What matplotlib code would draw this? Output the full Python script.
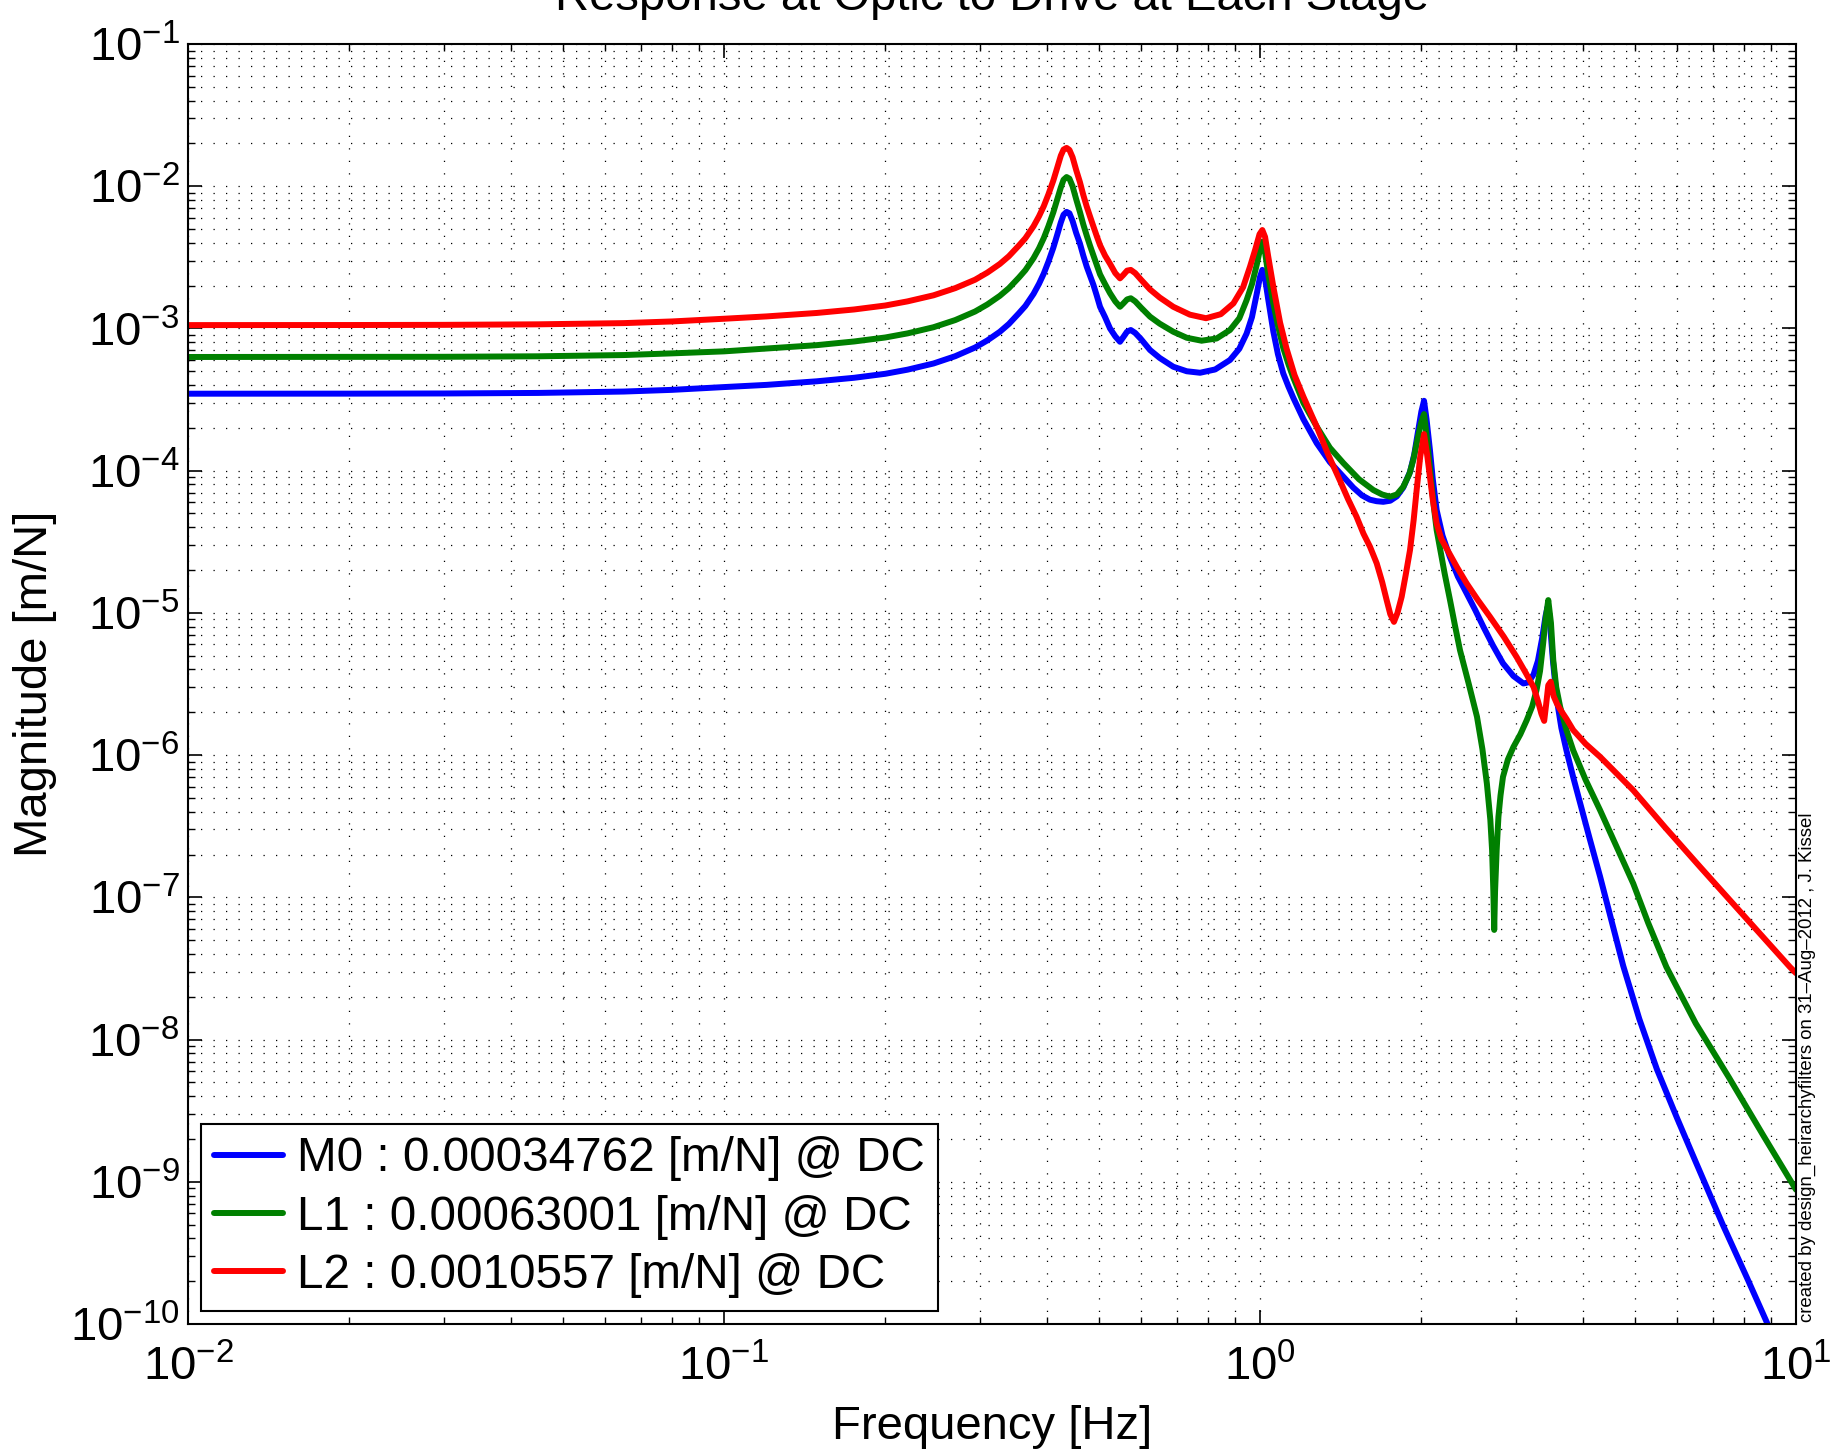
import numpy as np
import matplotlib
matplotlib.use('Agg')
import matplotlib.pyplot as plt
from matplotlib.ticker import LogLocator, NullFormatter

plt.rcParams['font.family'] = ['Liberation Sans', 'DejaVu Sans']
plt.rcParams['mathtext.fontset'] = 'custom'
plt.rcParams['mathtext.rm'] = 'Liberation Sans'
plt.rcParams['mathtext.it'] = 'Liberation Sans:italic'
plt.rcParams['mathtext.bf'] = 'Liberation Sans:bold'
plt.rcParams['mathtext.sf'] = 'Liberation Sans'

# ---------------- data: (frequency [Hz], magnitude [m/N]) ----------------
m0_points = [
    (0.01, 3.476e-4), (0.02, 3.48e-4), (0.03, 3.49e-4), (0.045, 3.52e-4), (0.065, 3.6e-4),
    (0.08, 3.7e-4), (0.1, 3.87e-4), (0.12, 4.01e-4), (0.149, 4.25e-4), (0.175, 4.5e-4),
    (0.2, 4.8e-4), (0.22, 5.13e-4), (0.246, 5.67e-4), (0.27, 6.38e-4), (0.294, 7.34e-4),
    (0.31, 8.24e-4), (0.327, 9.47e-4), (0.34, 1.075e-3), (0.355, 1.28e-3), (0.365, 1.44e-3),
    (0.378, 1.75e-3), (0.387, 2.06e-3), (0.395, 2.43e-3), (0.403, 2.95e-3), (0.4115, 3.69e-3),
    (0.418, 4.49e-3), (0.425, 5.56e-3), (0.43, 6.3e-3), (0.4357, 6.6e-3), (0.441, 6.45e-3),
    (0.447, 5.7e-3), (0.454, 4.69e-3), (0.4613, 3.96e-3), (0.468, 3.26e-3), (0.475, 2.72e-3),
    (0.482, 2.34e-3), (0.489, 2.02e-3), (0.496, 1.7e-3), (0.503, 1.42e-3), (0.514, 1.2e-3),
    (0.525, 1.0e-3), (0.537, 8.8e-4), (0.548, 8.06e-4), (0.556, 8.7e-4), (0.565, 9.5e-4),
    (0.574, 9.75e-4), (0.585, 9.3e-4), (0.6, 8.4e-4), (0.6235, 7.05e-4), (0.65, 6.2e-4),
    (0.689, 5.38e-4), (0.73, 5.0e-4), (0.773, 4.88e-4), (0.825, 5.15e-4), (0.879, 6.0e-4),
    (0.915, 7.2e-4), (0.944, 9.2e-4), (0.966, 1.2e-3), (0.986, 1.75e-3), (1.0, 2.3e-3),
    (1.01, 2.58e-3), (1.02, 2.35e-3), (1.036, 1.6e-3), (1.059, 9.5e-4), (1.08, 6.6e-4),
    (1.105, 4.83e-4), (1.13, 3.9e-4), (1.154, 3.25e-4), (1.205, 2.3e-4), (1.276, 1.56e-4),
    (1.35, 1.15e-4), (1.431, 9.06e-5), (1.493, 7.6e-5), (1.55, 6.7e-5), (1.604, 6.25e-5),
    (1.65, 6.1e-5), (1.698, 6.04e-5), (1.75, 6.15e-5), (1.8, 6.6e-5), (1.85, 7.6e-5),
    (1.905, 9.8e-5), (1.94, 1.3e-4), (1.97, 1.85e-4), (2.0, 2.6e-4), (2.023, 3.1e-4),
    (2.045, 2.3e-4), (2.075, 1.4e-4), (2.1, 8.8e-5), (2.136, 5.28e-5), (2.19, 3.5e-5),
    (2.26, 2.48e-5), (2.34, 1.8e-5), (2.43, 1.37e-5), (2.52, 1.05e-5), (2.61, 8.0e-6),
    (2.72, 5.9e-6), (2.84, 4.42e-6), (2.97, 3.6e-6), (3.1, 3.19e-6), (3.17, 3.25e-6),
    (3.24, 3.7e-6), (3.3, 4.6e-6), (3.36, 6.6e-6), (3.41, 9.5e-6), (3.44, 1.1e-5),
    (3.47, 9.0e-6), (3.52, 4.6e-6), (3.58, 2.44e-6), (3.65, 1.55e-6), (3.73, 1.08e-6),
    (3.84, 7.0e-7), (3.95, 4.7e-7), (4.12, 2.6e-7), (4.31, 1.4e-7), (4.52, 7.0e-8),
    (4.76, 3.3e-8), (5.1, 1.4e-8), (5.5, 6.2e-9), (6.0, 2.8e-9), (6.5, 1.38e-9),
    (7.3, 5.0e-10), (8.14, 2.03e-10), (8.85, 1.0e-10), (10.0, 3.2e-11)]

l1_points = [
    (0.01, 6.3e-4), (0.02, 6.31e-4), (0.03, 6.32e-4), (0.045, 6.37e-4), (0.065, 6.5e-4),
    (0.08, 6.68e-4), (0.1, 6.9e-4), (0.12, 7.22e-4), (0.149, 7.63e-4), (0.175, 8.1e-4),
    (0.2, 8.64e-4), (0.22, 9.23e-4), (0.246, 1.02e-3), (0.27, 1.145e-3), (0.294, 1.315e-3),
    (0.31, 1.475e-3), (0.327, 1.695e-3), (0.34, 1.92e-3), (0.355, 2.28e-3), (0.365, 2.57e-3),
    (0.378, 3.12e-3), (0.387, 3.66e-3), (0.395, 4.32e-3), (0.403, 5.24e-3), (0.4115, 6.55e-3),
    (0.418, 7.95e-3), (0.425, 9.8e-3), (0.43, 1.11e-2), (0.4357, 1.16e-2), (0.441, 1.13e-2),
    (0.447, 1.0e-2), (0.454, 8.1e-3), (0.4613, 6.6e-3), (0.468, 5.4e-3), (0.475, 4.5e-3),
    (0.482, 3.8e-3), (0.489, 3.25e-3), (0.496, 2.78e-3), (0.503, 2.4e-3), (0.514, 2.05e-3),
    (0.525, 1.77e-3), (0.537, 1.55e-3), (0.548, 1.42e-3), (0.556, 1.5e-3), (0.565, 1.6e-3),
    (0.574, 1.63e-3), (0.585, 1.55e-3), (0.6, 1.4e-3), (0.6235, 1.21e-3), (0.65, 1.08e-3),
    (0.689, 9.48e-4), (0.73, 8.6e-4), (0.778, 8.2e-4), (0.83, 8.5e-4), (0.879, 9.75e-4),
    (0.915, 1.18e-3), (0.944, 1.58e-3), (0.966, 2.05e-3), (0.986, 2.8e-3), (1.0, 3.6e-3),
    (1.01, 4.07e-3), (1.02, 3.6e-3), (1.036, 2.4e-3), (1.059, 1.5e-3), (1.08, 1.05e-3),
    (1.105, 7.3e-4), (1.13, 5.6e-4), (1.154, 4.5e-4), (1.205, 3.0e-4), (1.276, 2.04e-4),
    (1.35, 1.45e-4), (1.431, 1.13e-4), (1.53, 8.7e-5), (1.627, 7.31e-5), (1.69, 6.8e-5),
    (1.748, 6.56e-5), (1.8, 6.8e-5), (1.851, 7.71e-5), (1.9, 9.5e-5), (1.932, 1.19e-4),
    (1.97, 1.7e-4), (2.0, 2.2e-4), (2.023, 2.5e-4), (2.045, 1.8e-4), (2.07, 1.15e-4),
    (2.09, 8.15e-5), (2.11, 5.6e-5), (2.136, 3.82e-5), (2.17, 2.77e-5), (2.21, 1.9e-5),
    (2.262, 1.23e-5), (2.31, 8.2e-6), (2.361, 5.47e-6), (2.45, 3.2e-6), (2.54, 1.86e-6),
    (2.6, 1.1e-6), (2.65, 6.32e-7), (2.69, 3.5e-7), (2.71, 2.15e-7), (2.725, 1.1e-7),
    (2.735, 5.9e-8), (2.745, 1.1e-7), (2.764, 2.15e-7), (2.785, 3.68e-7), (2.81, 5.2e-7),
    (2.84, 7.03e-7), (2.9, 9.3e-7), (2.97, 1.14e-6), (3.06, 1.4e-6), (3.145, 1.76e-6),
    (3.22, 2.2e-6), (3.28, 2.86e-6), (3.33, 3.9e-6), (3.375, 6.1e-6), (3.41, 9.0e-6),
    (3.45, 1.23e-5), (3.49, 8.5e-6), (3.525, 4.66e-6), (3.57, 3.0e-6), (3.63, 2.19e-6),
    (3.73, 1.5e-6), (3.84, 1.08e-6), (4.05, 6.7e-7), (4.31, 4.1e-7), (4.62, 2.3e-7),
    (4.97, 1.25e-7), (5.3, 6.6e-8), (5.73, 3.24e-8), (6.5, 1.3e-8), (7.5, 5.4e-9),
    (8.7, 2.1e-9), (10.0, 8.8e-10)]

l2_points = [
    (0.01, 1.0557e-3), (0.02, 1.057e-3), (0.03, 1.06e-3), (0.045, 1.069e-3), (0.065, 1.09e-3),
    (0.08, 1.12e-3), (0.1, 1.17e-3), (0.12, 1.215e-3), (0.149, 1.285e-3), (0.175, 1.36e-3),
    (0.2, 1.45e-3), (0.22, 1.55e-3), (0.246, 1.71e-3), (0.27, 1.92e-3), (0.294, 2.2e-3),
    (0.31, 2.47e-3), (0.327, 2.84e-3), (0.34, 3.22e-3), (0.355, 3.83e-3), (0.365, 4.31e-3),
    (0.378, 5.23e-3), (0.387, 6.15e-3), (0.395, 7.24e-3), (0.403, 8.78e-3), (0.4115, 1.095e-2),
    (0.418, 1.33e-2), (0.425, 1.64e-2), (0.43, 1.81e-2), (0.4357, 1.86e-2), (0.441, 1.8e-2),
    (0.447, 1.6e-2), (0.454, 1.3e-2), (0.4613, 1.07e-2), (0.468, 8.7e-3), (0.475, 7.2e-3),
    (0.482, 6.1e-3), (0.489, 5.2e-3), (0.496, 4.45e-3), (0.503, 3.85e-3), (0.514, 3.25e-3),
    (0.525, 2.85e-3), (0.537, 2.45e-3), (0.548, 2.25e-3), (0.556, 2.38e-3), (0.565, 2.55e-3),
    (0.574, 2.58e-3), (0.585, 2.45e-3), (0.6, 2.2e-3), (0.6235, 1.88e-3), (0.65, 1.65e-3),
    (0.689, 1.42e-3), (0.74, 1.25e-3), (0.793, 1.18e-3), (0.845, 1.26e-3), (0.892, 1.5e-3),
    (0.93, 1.95e-3), (0.958, 2.72e-3), (0.98, 3.6e-3), (0.998, 4.6e-3), (1.01, 4.92e-3),
    (1.022, 4.4e-3), (1.036, 3.2e-3), (1.059, 1.96e-3), (1.09, 1.1e-3), (1.121, 7.2e-4),
    (1.16, 4.7e-4), (1.205, 3.31e-4), (1.276, 2.04e-4), (1.34, 1.3e-4), (1.41, 8.5e-5),
    (1.46, 6.3e-5), (1.514, 4.74e-5), (1.56, 3.6e-5), (1.604, 2.92e-5), (1.651, 2.23e-5),
    (1.69, 1.65e-5), (1.723, 1.23e-5), (1.75, 9.8e-6), (1.778, 8.65e-6), (1.805, 1.0e-5),
    (1.838, 1.3e-5), (1.87, 1.85e-5), (1.905, 2.77e-5), (1.935, 4.5e-5), (1.96, 7.31e-5),
    (1.99, 1.25e-4), (2.023, 1.81e-4), (2.05, 1.3e-4), (2.075, 9.06e-5), (2.1, 6.3e-5),
    (2.136, 4.25e-5), (2.18, 3.3e-5), (2.237, 2.77e-5), (2.33, 2.1e-5), (2.43, 1.61e-5),
    (2.55, 1.23e-5), (2.685, 9.4e-6), (2.85, 6.8e-6), (3.01, 4.91e-6), (3.13, 3.8e-6),
    (3.24, 3.0e-6), (3.3, 2.4e-6), (3.35, 1.95e-6), (3.39, 1.74e-6), (3.42, 2.3e-6),
    (3.45, 3.1e-6), (3.487, 3.28e-6), (3.53, 2.6e-6), (3.58, 2.3e-6), (3.63, 2.1e-6),
    (3.73, 1.8e-6), (3.84, 1.5e-6), (4.05, 1.2e-6), (4.31, 9.73e-7), (4.97, 5.66e-7),
    (5.7, 3.1e-7), (6.62, 1.64e-7), (8.0, 7.4e-8), (9.74, 3.24e-8), (10.0, 2.93e-8)]

series_labels = ['M0 : 0.00034762 [m/N] @ DC',
                 'L1 : 0.00063001 [m/N] @ DC',
                 'L2 : 0.0010557 [m/N] @ DC']
series_colors = ['#0000ff', '#008000', '#ff0000']

title_text = 'Response at Optic to Drive at Each Stage'
xlabel_text = 'Frequency [Hz]'
ylabel_text = 'Magnitude [m/N]'
stamp_text = 'created by design_heirarchyfilters on 31\u2013Aug\u20132012 , J. Kissel'

# ---------------- figure ----------------
W, H = 1832, 1452
fig = plt.figure(figsize=(W / 100, H / 100), dpi=100)
L, R, T, B = 188, 1796, 44, 1324
ax = fig.add_axes([L / W, (H - B) / H, (R - L) / W, (B - T) / H])

for pts, c, lab in zip([m0_points, l1_points, l2_points], series_colors, series_labels):
    f = [p[0] for p in pts]
    m = [p[1] for p in pts]
    ax.loglog(f, m, color=c, lw=4.3, label=lab,
              solid_joinstyle='round', solid_capstyle='round')

ax.set_xlim(1e-2, 1e1)
ax.set_ylim(1e-10, 1e-1)

for axis in (ax.xaxis, ax.yaxis):
    axis.set_major_locator(LogLocator(base=10, numticks=30))
    axis.set_minor_locator(LogLocator(base=10, subs=np.arange(2, 10), numticks=300))
    axis.set_minor_formatter(NullFormatter())

ax.grid(True, which='both', color='k', linestyle=(0, (1, 9)), linewidth=0.9)
ax.set_axisbelow(True)

ax.tick_params(which='both', direction='in', top=True, right=True, labelsize=34)
ax.tick_params(which='major', length=10, width=1.2)
ax.tick_params(which='minor', length=5, width=1.0)
ax.tick_params(axis='x', pad=15)
ax.tick_params(axis='y', pad=6)
for s in ax.spines.values():
    s.set_linewidth(1.5)

ax.set_xlabel(xlabel_text, fontsize=34)
ax.xaxis.set_label_coords(0.5, (B - 1427) / (B - T))
ax.xaxis.label.set_verticalalignment('center')
ax.set_ylabel(ylabel_text, fontsize=34)
ax.yaxis.set_label_coords((35 - L) / (R - L), 0.5)
ax.yaxis.label.set_verticalalignment('center')

ax.set_title(title_text, fontsize=34, y=(B - 10) / (B - T), va='baseline', pad=0)

leg = ax.legend(loc='lower left', bbox_to_anchor=(13 / (R - L), 13 / (B - T)),
                borderaxespad=0, fontsize=34.3, handlelength=1.45, handletextpad=0.3,
                labelspacing=0.28, borderpad=0.27, fancybox=False, framealpha=1,
                edgecolor='k')
leg.get_frame().set_linewidth(1.5)

fig.text(1807 / W, (H - 1322) / H, stamp_text, rotation=90, ha='center', va='bottom',
         fontsize=13.4)

fig.savefig('out.png', dpi=100)
